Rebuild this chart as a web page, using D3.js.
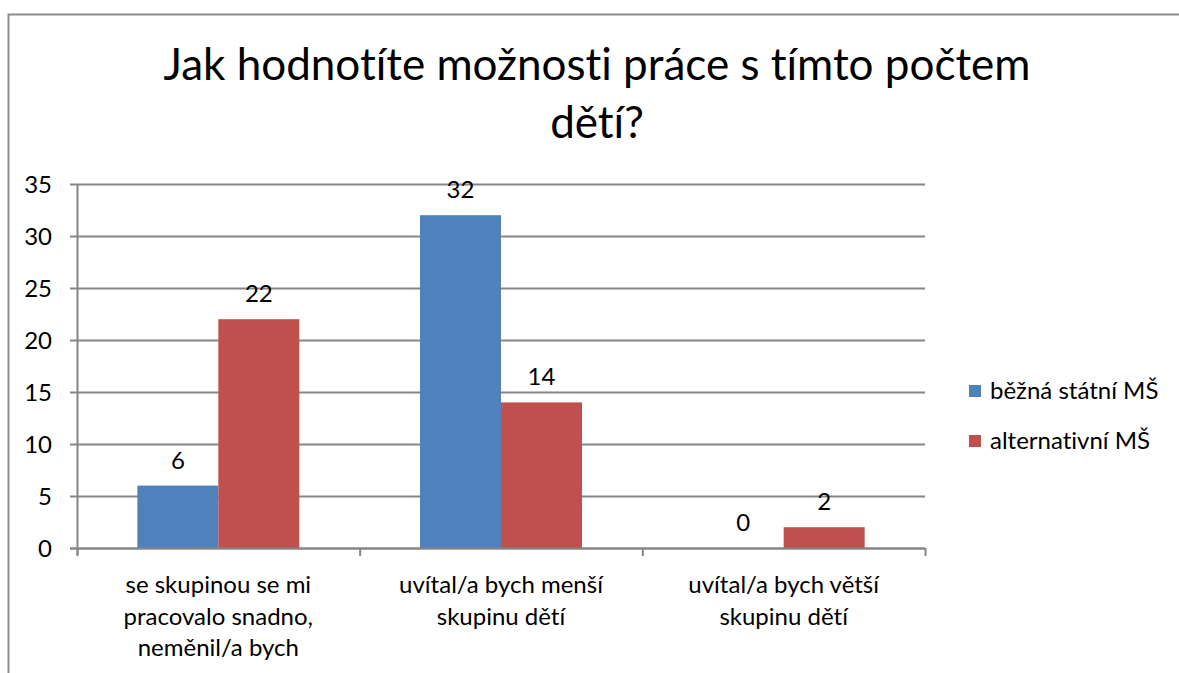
<!DOCTYPE html>
<html>
<head>
<meta charset="utf-8">
<script src="https://cdn.jsdelivr.net/npm/d3@7/dist/d3.min.js"></script>
<style>
  body { margin: 0; background: #fff; }
  svg { display: block; font-family: Lato, 'Noto Sans', sans-serif; font-variant-ligatures: none; }
</style>
</head>
<body>
<svg id="chart" width="1179" height="673"></svg>
<script>
const categories = [
  ['se skupinou se mi', 'pracovalo snadno,', 'neměnil/a bych'],
  ['uvítal/a bych menší', 'skupinu dětí'],
  ['uvítal/a bych větší', 'skupinu dětí'],
]
const seriesNames = ['běžná státní MŠ', 'alternativní MŠ']
const statni = [6, 32, 0]
const alternativni = [22, 14, 2]
const yTicks = [0, 5, 10, 15, 20, 25, 30, 35]
const colors = ['#4F81BD', '#C0504D']

const svg = d3.select('#chart')
const plotLeft = 77, plotRight = 925, plotTop = 184, plotBottom = 548

// outer frame (only left + top edge visible)
svg.append('path')
  .attr('d', 'M8.5,673 L8.5,14.5 L1179,14.5')
  .attr('fill', 'none')
  .attr('stroke', '#8c8c8c')
  .attr('stroke-width', 2)

// title
const title = svg.append('text')
  .attr('text-anchor', 'middle')
  .attr('font-size', 44)
  .attr('fill', '#000')
title.append('tspan').attr('x', 597).attr('y', 80).text('Jak hodnotíte možnosti práce s tímto počtem')
title.append('tspan').attr('x', 597).attr('y', 138).text('dětí?')

const x = d3.scaleBand().domain(d3.range(categories.length)).range([plotLeft, plotRight])
const xInner = d3.scaleBand().domain([0, 1]).range([0, x.bandwidth()]).paddingOuter(0.745)
const y = d3.scaleLinear().domain([0, 35]).range([plotBottom, plotTop])

// gridlines
svg.append('g')
  .selectAll('line')
  .data(yTicks)
  .join('line')
  .attr('x1', plotLeft - 7).attr('x2', plotRight)
  .attr('y1', (d) => y(d) + 0.5).attr('y2', (d) => y(d) + 0.5)
  .attr('stroke', '#868686')
  .attr('stroke-width', 2)

// y tick labels
svg.append('g')
  .selectAll('text')
  .data(yTicks)
  .join('text')
  .attr('x', 52).attr('y', (d) => y(d) + 8.5)
  .attr('text-anchor', 'end')
  .attr('font-size', 24)
  .text((d) => d)

// bars
const data = [statni, alternativni]
data.forEach((series, s) => {
  svg.append('g')
    .selectAll('rect')
    .data(series)
    .join('rect')
    .attr('x', (d, i) => x(i) + xInner(s))
    .attr('width', xInner.bandwidth())
    .attr('y', (d) => y(d))
    .attr('height', (d) => plotBottom - y(d))
    .attr('fill', colors[s])

  svg.append('g')
    .selectAll('text')
    .data(series)
    .join('text')
    .attr('x', (d, i) => x(i) + xInner(s) + xInner.bandwidth() / 2)
    .attr('y', (d) => y(d) - 17)
    .attr('text-anchor', 'middle')
    .attr('font-size', 24)
    .text((d) => d)
})

// axes lines
svg.append('line')
  .attr('x1', plotLeft + 0.5).attr('x2', plotLeft + 0.5)
  .attr('y1', plotTop).attr('y2', plotBottom + 7)
  .attr('stroke', '#868686').attr('stroke-width', 2)
svg.append('line')
  .attr('x1', plotLeft - 7).attr('x2', plotRight)
  .attr('y1', plotBottom + 0.5).attr('y2', plotBottom + 0.5)
  .attr('stroke', '#868686').attr('stroke-width', 2)
svg.append('g')
  .selectAll('line')
  .data(d3.range(categories.length + 1))
  .join('line')
  .attr('x1', (d) => plotLeft + d * x.bandwidth() + 0.5)
  .attr('x2', (d) => plotLeft + d * x.bandwidth() + 0.5)
  .attr('y1', plotBottom).attr('y2', plotBottom + 8)
  .attr('stroke', '#868686').attr('stroke-width', 2)

// category labels
categories.forEach((lines, i) => {
  const t = svg.append('text')
    .attr('text-anchor', 'middle')
    .attr('font-size', 24)
  lines.forEach((line, k) => {
    t.append('tspan')
      .attr('x', x(i) + x.bandwidth() / 2)
      .attr('y', 593 + k * 31.5)
      .text(line)
  })
})

// legend
seriesNames.forEach((name, s) => {
  const g = svg.append('g').attr('transform', `translate(969, ${385 + s * 50})`)
  g.append('rect').attr('width', 12).attr('height', 12).attr('fill', colors[s])
  g.append('text').attr('x', 21).attr('y', 14).attr('font-size', 24).text(name)
})
</script>
</body>
</html>
